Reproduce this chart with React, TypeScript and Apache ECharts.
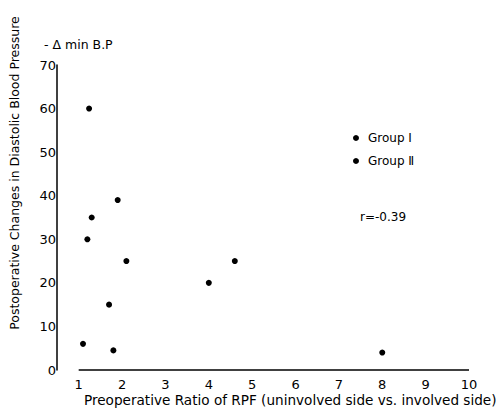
import React, { useEffect, useRef } from "react";
import * as echarts from "echarts";

const xTickValues = [1, 2, 3, 4, 5, 6, 7, 8, 9, 10];
const groupNames = ["Group Ⅰ", "Group Ⅱ"];
const pointsX = [1.24, 1.9, 1.3, 1.2, 2.1, 4.6, 4.0, 1.7, 1.1, 1.8, 8.0];
const pointsY = [60, 39, 35, 30, 25, 25, 20, 15, 6, 4.5, 4];
const xTitle = "Preoperative Ratio of RPF (uninvolved side vs. involved side)";
const yTitle = "Postoperative Changes in Diastolic Blood Pressure";
const yUnit = "- Δ min B.P";
const rText = "r=-0.39";

export default function App() {
  const ref = useRef<HTMLDivElement>(null);
  useEffect(() => {
    document.body.style.margin = "0";
    if (!ref.current) return;
    const chart = echarts.init(ref.current, undefined, { renderer: "svg" });
    const font = "DejaVu Sans";
    chart.setOption({
      animation: false,
      backgroundColor: "#fff",
      textStyle: { fontFamily: font },
      grid: { left: 57, right: 32, top: 65, bottom: 41, containLabel: false },
      legend: {
        orient: "vertical",
        left: 348,
        top: 127,
        itemWidth: 6,
        itemHeight: 6,
        itemGap: 11,
        icon: "circle",
        data: groupNames,
        textStyle: { fontFamily: font, fontSize: 12, color: "#000", padding: [0, 0, 0, 4] },
      },
      xAxis: {
        type: "value",
        min: 0.5,
        max: 10,
        axisLine: { show: false },
        axisTick: { show: false },
        splitLine: { show: false },
        axisLabel: {
          customValues: xTickValues,
          color: "#000",
          fontSize: 13,
          fontFamily: font,
          margin: 8,
        },
      },
      yAxis: {
        type: "value",
        min: 0,
        max: 70,
        interval: 10,
        axisLine: { show: true, lineStyle: { color: "#000", width: 1.5 } },
        axisTick: { show: false },
        splitLine: { show: false },
        axisLabel: { color: "#000", fontSize: 13, fontFamily: font, margin: 1 },
      },
      graphic: [
        {
          type: "text",
          x: 14,
          y: 173,
          rotation: Math.PI / 2,
          style: {
            text: yTitle,
            font: `12.5px ${font}`,
            fill: "#000",
            align: "center",
            verticalAlign: "middle",
          },
        },
        {
          type: "text",
          x: 44,
          y: 44,
          style: { text: yUnit, font: `12.5px ${font}`, fill: "#000", verticalAlign: "middle" },
        },
        {
          type: "text",
          x: 84,
          y: 400,
          style: { text: xTitle, font: `13.6px ${font}`, fill: "#000", verticalAlign: "middle" },
        },
        {
          type: "text",
          x: 360,
          y: 217,
          style: { text: rText, font: `12px ${font}`, fill: "#000", verticalAlign: "middle" },
        },
      ],
      series: [
        {
          name: groupNames[0],
          type: "scatter",
          symbol: "circle",
          symbolSize: 6,
          itemStyle: { color: "#000", opacity: 1 },
          data: pointsX.map((x, i) => [x, pointsY[i]]),
          markLine: {
            silent: true,
            symbol: "none",
            label: { show: false },
            lineStyle: { color: "#000", width: 1.5, type: "solid", opacity: 1 },
            data: [[{ coord: [xTickValues[0], 0] }, { coord: [xTickValues[xTickValues.length - 1], 0] }]],
          },
        },
        {
          name: groupNames[1],
          type: "scatter",
          symbol: "circle",
          symbolSize: 6,
          itemStyle: { color: "#000", opacity: 1 },
          data: [],
        },
      ],
    });
    return () => chart.dispose();
  }, []);
  return <div ref={ref} style={{ width: 501, height: 411 }} />;
}
